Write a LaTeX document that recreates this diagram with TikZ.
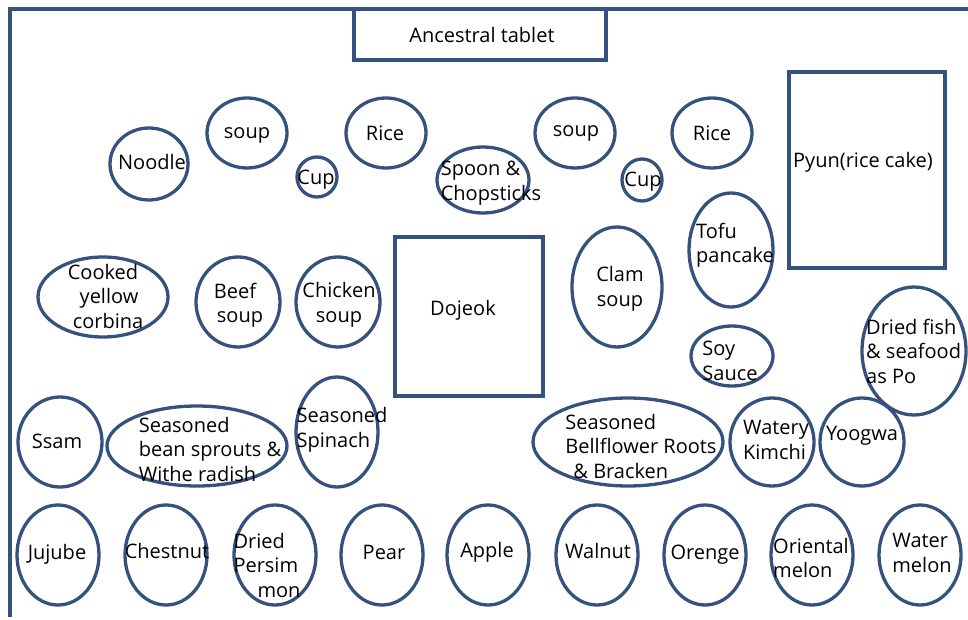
\documentclass[tikz,border=0pt]{standalone}
\usepackage{fontspec}
\setmainfont{Open Sans}
\usetikzlibrary{shapes, positioning}
\definecolor{rim}{HTML}{35517E}

\begin{document}
\begin{tikzpicture}[x=1pt, y=-1pt,
            dish/.style={ellipse, draw=rim, line width=3.3pt, inner sep=0pt},
            tray/.style={rectangle, draw=rim, line width=3.3pt, inner sep=0pt},
            food/.style={font=\fontsize{20}{24.5}\selectfont, inner sep=0pt, align=center},
            foodl/.style={food, align=left}]

            \useasboundingbox (0,0) rectangle (968,620);
            % table frame
            \coordinate (fbot) at (10,617);
            \coordinate (fcorner) at (10,9);
            \coordinate (fright) at (968,9);
            \draw[rim, line width=3.3pt] (fbot) -- (fcorner) -- (fright);

            % rectangles
            \node[tray, minimum width=252, minimum height=51] (tablet) at (480,34.5) {};
            \node[food] (tablet-t) at (482,35) {Ancestral tablet};
            \node[tray, minimum width=148, minimum height=159] (dojeok) at (469,316.5) {};
            \node[food] (dojeok-t) at (463,310) {Dojeok};
            \node[tray, minimum width=156, minimum height=196] (pyun) at (867,170) {};
            \node[food] (pyun-t) at (863,162) {Pyun(rice cake)};

            % first row
            \node[dish, minimum width=78, minimum height=72] (noodle) at (149,164) {};
            \node[food] (noodle-t) at (152,162) {Noodle};
            \node[dish, minimum width=80, minimum height=70] (soupA) at (247,133) {};
            \node[food] (soupA-t) at (247,135) {soup};
            \node[dish, minimum width=40, minimum height=40] (cupA) at (317,177) {};
            \node[food] (cupA-t) at (316,180) {Cup};
            \node[dish, minimum width=80, minimum height=70] (riceA) at (386,133) {};
            \node[food] (riceA-t) at (385,133) {Rice};
            \node[dish, minimum width=92, minimum height=66] (spoon) at (483,180) {};
            \node[foodl] (spoon-t) at (491,183) {Spoon \&\\Chopsticks};
            \node[dish, minimum width=80, minimum height=70] (soupB) at (575,133) {};
            \node[food] (soupB-t) at (576,133) {soup};
            \node[dish, minimum width=40, minimum height=42] (cupB) at (642,180) {};
            \node[food] (cupB-t) at (643,182) {Cup};
            \node[dish, minimum width=80, minimum height=70] (riceB) at (712,133) {};
            \node[food] (riceB-t) at (712,133) {Rice};

            % second row
            \node[dish, minimum width=130, minimum height=80] (corbina) at (103,297) {};
            \node[food] (corbina-t) at (103,296) {Cooked\\\hspace*{0.6em}yellow\\\hspace*{0.5em}corbina};
            \node[dish, minimum width=84, minimum height=90] (beef) at (238,302) {};
            \node[food] (beef-t) at (235,305) {Beef\\\hspace*{0.5em}soup};
            \node[dish, minimum width=84, minimum height=90] (chicken) at (338,302) {};
            \node[food] (chicken-t) at (339,305) {Chicken\\soup};
            \node[dish, minimum width=90, minimum height=120] (clam) at (617,287) {};
            \node[food] (clam-t) at (620,289) {Clam\\soup};
            \node[dish, minimum width=84, minimum height=114] (tofu) at (731,250) {};
            \node[foodl] (tofu-t) at (735,245) {Tofu\\pancake};
            \node[dish, minimum width=82, minimum height=60] (soy) at (732,356) {};
            \node[foodl] (soy-t) at (730,361) {Soy\\Sauce};
            \node[dish, minimum width=104, minimum height=128] (po) at (914,351) {};
            \node[foodl, anchor=west] (po-t) at (866,351) {Dried fish\\\& seafood\\as Po};

            % third row
            \node[dish, minimum width=84, minimum height=90] (ssam) at (60,442) {};
            \node[food] (ssam-t) at (57,441) {Ssam};
            \node[dish, minimum width=180, minimum height=80] (sprouts) at (197,446) {};
            \node[foodl] (sprouts-t) at (210,449) {Seasoned\\bean sprouts \&\\Withe radish};
            \node[dish, minimum width=82, minimum height=110] (spinach) at (337,432) {};
            \node[foodl] (spinach-t) at (342,430) {Seasoned\\Spinach};
            \node[dish, minimum width=190, minimum height=88] (bellflower) at (628,442) {};
            \node[foodl] (bellflower-t) at (641,446) {Seasoned\\Bellflower Roots\\\hspace*{0.4em}\& Bracken};
            \node[dish, minimum width=84, minimum height=88] (kimchi) at (772,442) {};
            \node[foodl] (kimchi-t) at (776,440) {Watery\\Kimchi};
            \node[dish, minimum width=84, minimum height=88] (yoogwa) at (862,442) {};
            \node[food] (yoogwa-t) at (862,436) {Yoogwa};

            % fruit row
            \node[dish, minimum width=82, minimum height=100] (jujube) at (58,555) {};
            \node[food] (jujube-t) at (57,554) {Jujube};
            \node[dish, minimum width=82, minimum height=100] (chestnut) at (166,555) {};
            \node[food] (chestnut-t) at (167,551) {Chestnut};
            \node[dish, minimum width=82, minimum height=100] (persimmon) at (275,555) {};
            \node[foodl] (persimmon-t) at (267,565) {Dried\\Persim\\\hspace*{1.2em}mon};
            \node[dish, minimum width=82, minimum height=100] (pear) at (382,555) {};
            \node[food] (pear-t) at (384,552) {Pear};
            \node[dish, minimum width=82, minimum height=100] (apple) at (488,555) {};
            \node[food] (apple-t) at (487,552) {Apple};
            \node[dish, minimum width=82, minimum height=100] (walnut) at (597,555) {};
            \node[food] (walnut-t) at (598,551) {Walnut};
            \node[dish, minimum width=82, minimum height=100] (orenge) at (705,555) {};
            \node[food] (orenge-t) at (705,555) {Orenge};
            \node[dish, minimum width=82, minimum height=100] (oriental) at (812,555) {};
            \node[foodl] (oriental-t) at (811,558) {Oriental\\melon};
            \node[dish, minimum width=82, minimum height=100] (watermelon) at (920,555) {};
            \node[foodl] (watermelon-t) at (922,553) {Water\\melon};

        \end{tikzpicture}
\end{document}
